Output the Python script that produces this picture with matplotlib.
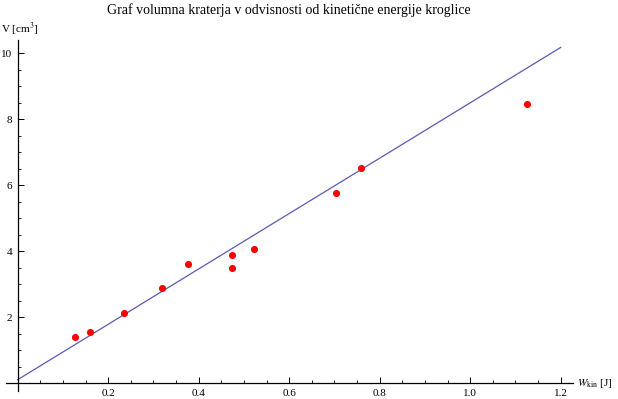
import matplotlib
matplotlib.use("Agg")
import matplotlib.pyplot as plt
import numpy as np

# izmerjene tocke
w_kin = [0.127, 0.159, 0.235, 0.318, 0.377, 0.4725, 0.4725, 0.523, 0.7045, 0.7576, 1.1266]
volumen = [1.39, 1.54, 2.14, 2.90, 3.63, 3.48, 3.90, 4.08, 5.78, 6.51, 8.45]

# premica (odsek, naklon)
odsek = 0.11
naklon = 8.39
premica_x = [0.0, 1.2]

x_major = [0.2, 0.4, 0.6, 0.8, 1.0, 1.2]
y_major = [2, 4, 6, 8, 10]

plt.rcParams['font.family'] = ['Liberation Serif', 'DejaVu Serif']
plt.rcParams['mathtext.fontset'] = 'stix'

W, H = 618, 399
fig = plt.figure(figsize=(W / 100, H / 100), dpi=100)
ax = fig.add_axes([0, 0, 1, 1])

# pikselna postavitev osi
x0_px, sx = 17.7, 452.5
y0_px, sy = 383.3, 33.0
ax.set_xlim(-x0_px / sx, (W - x0_px) / sx)
ax.set_ylim(-(H - y0_px) / sy, y0_px / sy)

lx = np.array(premica_x)
ax.plot(lx, odsek + naklon * lx, color='#5a5ab0', lw=0.9, zorder=2)
ax.scatter(w_kin, volumen, s=26, color='red', zorder=3, linewidths=0)

for s in ['top', 'right']:
    ax.spines[s].set_visible(False)
ax.spines['left'].set_position(('data', 0))
ax.spines['bottom'].set_position(('data', 0))
ax.spines['bottom'].set_bounds(-0.0254, 1.2265)
ax.spines['left'].set_bounds(-0.22, 10.39)
ax.spines['left'].set_linewidth(0.9)
ax.spines['bottom'].set_linewidth(0.9)

ax.set_xticks(x_major)
ax.set_xticklabels([f"{v:.1f}" for v in x_major])
ax.set_yticks(y_major)
ax.set_yticklabels([str(v) for v in y_major])
ax.set_xticks([v for v in np.arange(0.05, 1.21, 0.05) if min(abs(v - m) for m in x_major) > 1e-6], minor=True)
ax.set_yticks([v for v in np.arange(0.5, 10.4, 0.5) if min(abs(v - m) for m in y_major) > 1e-6], minor=True)

ax.tick_params(which='major', direction='in', length=4.5, width=0.7, labelsize=8)
ax.tick_params(which='minor', direction='in', length=2.2, width=0.6)
ax.tick_params(axis='x', which='major', pad=4)
ax.tick_params(axis='y', which='major', pad=4)

fig.text(289 / W, 1 - 10 / H, "Graf volumna kraterja v odvisnosti od kinetične energije kroglice",
         ha='center', va='center', fontsize=10)
fig.text(1 / W, 1 - 29 / H, "V [cm$^3$]", ha='left', va='center', fontsize=8)
fig.text(577 / W, 1 - 383 / H, r"$W_{\mathrm{kin}}$ [J]", ha='left', va='center', fontsize=8)

fig.savefig("out.png", dpi=100)
